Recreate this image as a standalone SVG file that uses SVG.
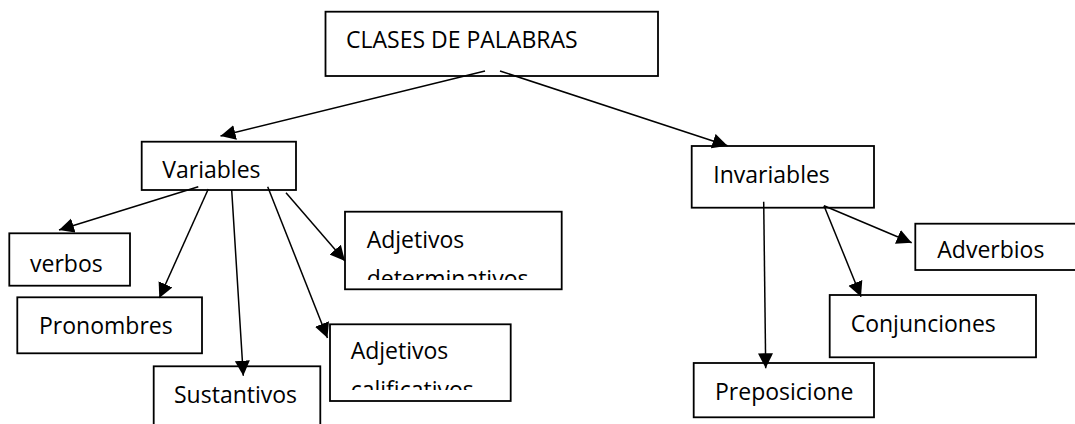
<svg xmlns="http://www.w3.org/2000/svg" width="1075" height="424" viewBox="0 0 1075 424">
<style>
.box{fill:#fff;stroke:#000;stroke-width:1.8}
.lbl{font-family:"Open Sans","Noto Sans","Liberation Sans",sans-serif;font-size:23px;fill:#000}
.edge{stroke:#000;stroke-width:1.5;fill:none;marker-end:url(#ah)}
</style>
<defs>
<marker id="ah" markerUnits="userSpaceOnUse" markerWidth="16" markerHeight="16" refX="15" refY="7.5" orient="auto">
<path d="M0,0 L15,7.5 L0,15 z" fill="#000"/>
</marker>
<clipPath id="clipDet"><rect x="346" y="212" width="215" height="68"/></clipPath>
<clipPath id="clipCal"><rect x="331" y="325" width="179" height="65"/></clipPath>
</defs>
<rect width="1075" height="424" fill="#fff"/>
<g id="n-clases"><rect class="box" x="325.5" y="11.7" width="332.5" height="64.3"/><text class="lbl" x="346" y="48.3">CLASES DE PALABRAS</text></g>
<g id="n-variables"><rect class="box" x="141.7" y="141.7" width="154.3" height="48.3"/><text class="lbl" x="162.3" y="178.3">Variables</text></g>
<g id="n-invariables"><rect class="box" x="691.7" y="146" width="182.3" height="61.7"/><text class="lbl" x="713.3" y="183.3">Invariables</text></g>
<g id="n-verbos"><rect class="box" x="9.3" y="233.3" width="120.7" height="52.4"/><text class="lbl" x="30" y="272.3">verbos</text></g>
<g id="n-pronombres"><rect class="box" x="17.3" y="297.3" width="184.7" height="56"/><text class="lbl" x="39" y="334">Pronombres</text></g>
<g id="n-sustantivos"><rect class="box" x="153.7" y="366.3" width="166.6" height="70"/><text class="lbl" x="174" y="402.7">Sustantivos</text></g>
<g id="n-adjdet"><rect class="box" x="345" y="211.7" width="216.7" height="77.6"/><g clip-path="url(#clipDet)"><text class="lbl" x="366.7" y="248.3">Adjetivos</text><text class="lbl" x="366.7" y="286.5">determinativos</text></g></g>
<g id="n-adjcal"><rect class="box" x="330" y="324.3" width="180.7" height="76.7"/><g clip-path="url(#clipCal)"><text class="lbl" x="350.7" y="359.3">Adjetivos</text><text class="lbl" x="350.7" y="397.6">calificativos</text></g></g>
<g id="n-adverbios"><rect class="box" x="915.3" y="223.7" width="170" height="46.3"/><text class="lbl" x="937.3" y="258.3">Adverbios</text></g>
<g id="n-conjunciones"><rect class="box" x="829.7" y="295" width="206.3" height="62.3"/><text class="lbl" x="850.7" y="331.7">Conjunciones</text></g>
<g id="n-preposicione"><rect class="box" x="693.7" y="363" width="180.3" height="54.3"/><text class="lbl" x="715" y="400">Preposicione</text></g>
<g id="connectors">
<line class="edge" x1="485" y1="71" x2="220.5" y2="136"/>
<line class="edge" x1="500" y1="71" x2="727.5" y2="145.7"/>
<line class="edge" x1="198.3" y1="186.7" x2="59" y2="230"/>
<line class="edge" x1="208.3" y1="189" x2="159.3" y2="298"/>
<line class="edge" x1="231.7" y1="190" x2="243.3" y2="375.7"/>
<line class="edge" x1="267.7" y1="186.7" x2="327.5" y2="338"/>
<line class="edge" x1="286" y1="192.7" x2="345" y2="261"/>
<line class="edge" x1="763.7" y1="201.7" x2="765.7" y2="368.3"/>
<line class="edge" x1="824" y1="205.7" x2="861" y2="296.7"/>
<line class="edge" x1="824" y1="205.7" x2="911.7" y2="242.7"/>
</g>
</svg>
